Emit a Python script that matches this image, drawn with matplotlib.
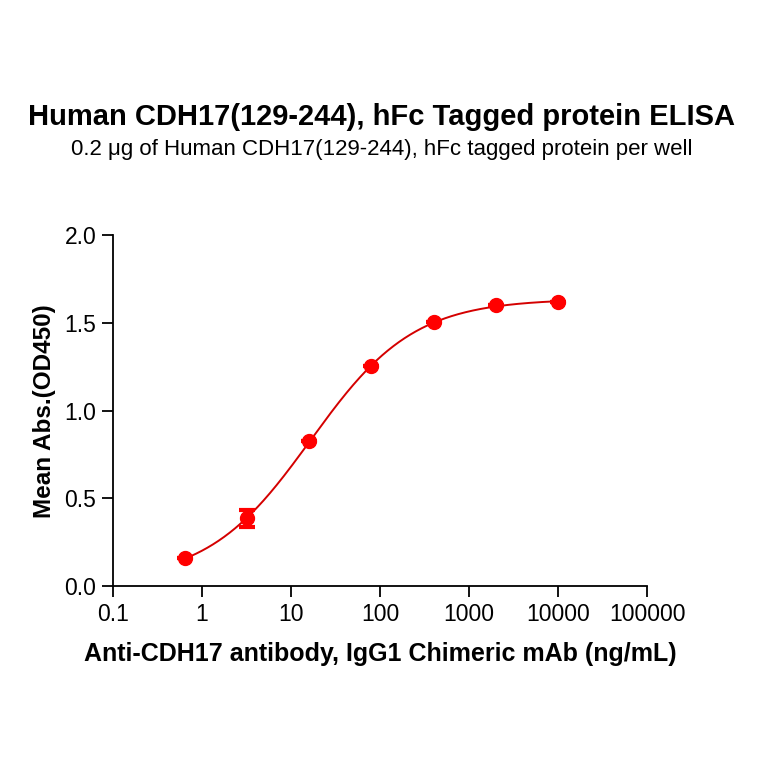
import numpy as np
import matplotlib
matplotlib.use("Agg")
import matplotlib.pyplot as plt

# ---- data ----
conc = [0.64, 3.2, 16, 80, 400, 2000, 10000]
od450 = [0.158, 0.385, 0.826, 1.255, 1.503, 1.602, 1.617]
err = [0.0, 0.05, 0.0, 0.0, 0.0, 0.0, 0.0]
xticks = [0.1, 1, 10, 100, 1000, 10000, 100000]
xticklabels = ["0.1", "1", "10", "100", "1000", "10000", "100000"]
yticks = [0.0, 0.5, 1.0, 1.5, 2.0]
yticklabels = ["0.0", "0.5", "1.0", "1.5", "2.0"]

title = "Human CDH17(129-244), hFc Tagged protein ELISA"
subtitle = "0.2 \u03bcg of Human CDH17(129-244), hFc tagged protein per well"
xlabel = "Anti-CDH17 antibody, IgG1 Chimeric mAb (ng/mL)"
ylabel = "Mean Abs.(OD450)"

# ---- 4PL fit (grid over EC50/hill, linear LS for bottom/top) ----
x = np.array(conc, float)
y = np.array(od450, float)
best = None
for lec in np.linspace(-1, 4, 501):
    for h in np.linspace(0.3, 2.5, 221):
        s = 1.0 / (1.0 + (10**lec / x) ** h)
        A = np.column_stack([1 - s, s])
        coef, *_ = np.linalg.lstsq(A, y, rcond=None)
        r = np.sum((A @ coef - y) ** 2)
        if best is None or r < best[0]:
            best = (r, lec, h, coef)
_, lec, h, (bot, top) = best
xf = np.logspace(np.log10(conc[0]), np.log10(conc[-1]), 400)
sf = 1.0 / (1.0 + (10**lec / xf) ** h)
yf = bot + (top - bot) * sf

plt.rcParams['font.family'] = ['Liberation Sans', 'DejaVu Sans']

fig = plt.figure(figsize=(7.64, 7.64), dpi=100)
ax = fig.add_axes([0.148, 0.233, 0.699, 0.459])

ax.plot(xf, yf, color="#d40000", lw=1.4, zorder=2)
ax.errorbar(conc, od450, yerr=err, fmt="o", color="#ff0000", ms=10,
            elinewidth=2, capsize=6, capthick=3, zorder=3)

ax.set_xscale("log")
ax.set_xlim(0.1, 100000)
ax.set_ylim(0, 2.0)
ax.set_xticks(xticks)
ax.set_xticklabels(xticklabels)
ax.minorticks_off()
ax.set_yticks(yticks)
ax.set_yticklabels(yticklabels)
for s in ["top", "right"]:
    ax.spines[s].set_visible(False)
for s in ["left", "bottom"]:
    ax.spines[s].set_linewidth(1.3)
ax.tick_params(axis="both", direction="out", length=8, width=1.3,
               labelsize=16.5, pad=4)

ax.set_xlabel(xlabel, fontsize=18, fontweight="bold", labelpad=12)
ax.set_ylabel(ylabel, fontsize=17.5, fontweight="bold", labelpad=6)

fig.text(0.5, 1 - 117 / 764, title, ha="center", va="center",
         fontsize=21, fontweight="bold")
fig.text(0.5, 1 - 150 / 764, subtitle, ha="center", va="center",
         fontsize=16)

fig.savefig("out.png", dpi=100)
